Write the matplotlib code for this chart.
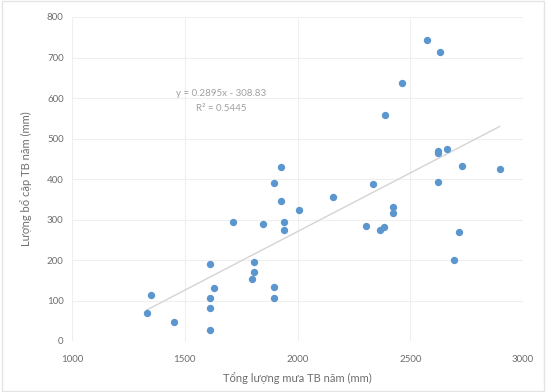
import matplotlib
matplotlib.use("Agg")
import matplotlib.pyplot as plt
import numpy as np
from matplotlib.patches import Rectangle

plt.rcParams['font.family'] = ['Lato', 'DejaVu Sans']

rain = [1332, 1351, 1451, 1610, 1610, 1610, 1631, 1611, 1716, 1809, 1809, 1799,
        1846, 1898, 1898, 1898, 1928, 1928, 1939, 1939, 2006, 2157, 2305, 2337,
        2364, 2383, 2390, 2423, 2423, 2463, 2573, 2633, 2621, 2625, 2664, 2622,
        2730, 2896, 2714, 2696]
recharge = [70, 114, 46, 26, 81, 105, 131, 189, 294, 196, 170, 153,
            288, 389, 133, 105, 430, 345, 293, 275, 324, 355, 284, 388,
            273, 281, 557, 331, 315, 636, 742, 713, 463, 468, 474, 393,
            431, 424, 268, 201]
slope = 0.2895
intercept = -308.83
eq_text = "y = 0.2895x - 308.83"
r2_text = "R² = 0.5445"
x_ticks = [1000, 1500, 2000, 2500, 3000]
y_ticks = [0, 100, 200, 300, 400, 500, 600, 700, 800]
x_label = "Tổng lượng mưa TB năm (mm)"
y_label = "Lượng bổ cập TB năm (mm)"

fig = plt.figure(figsize=(5.46, 3.92), dpi=100)
ax = fig.add_axes([72/546, 1-341/392, (523-72)/546, (341-17)/392])

ax.scatter(rain, recharge, s=28, color='#5B96CE', zorder=3, linewidths=0)
xs = np.array([min(rain), max(rain)])
ax.plot(xs, slope*xs + intercept, color='#D4D4D4', lw=1.0, zorder=2)

ax.set_xlim(1000, 3000)
ax.set_ylim(0, 800)
ax.set_xticks(x_ticks)
ax.set_yticks(y_ticks)
ax.grid(True, color='#EFEFEF', lw=0.8)
ax.set_axisbelow(True)
for s in ax.spines.values():
    s.set_visible(False)
ax.tick_params(length=0, labelsize=7, labelcolor='#6E6E6E', pad=6)
ax.tick_params(axis='x', pad=10)
ax.set_xlabel(x_label, fontsize=8, color='#6E6E6E', labelpad=6)
ax.set_ylabel(y_label, fontsize=8, color='#6E6E6E', labelpad=11)

ax.text(1660, 612, eq_text, fontsize=7, color='#A0A0A0', ha='center', va='center')
ax.text(1660, 575, r2_text, fontsize=7, color='#A0A0A0', ha='center', va='center')

fig.patches.append(Rectangle((0.003, 0.003), 0.994, 0.994, transform=fig.transFigure,
                             fill=False, edgecolor='#E4E4E4', lw=1.0))

fig.savefig("out.png", dpi=100)
